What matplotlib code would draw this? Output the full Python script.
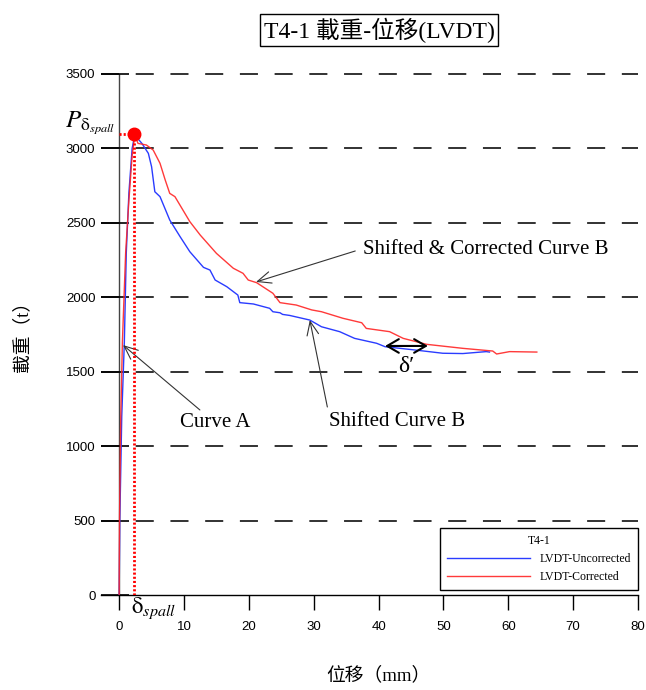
import matplotlib
matplotlib.use("Agg")
import matplotlib.pyplot as plt

# ---------------- data ----------------
uncorr_x = [0.0, 0.1, 0.4, 0.8, 1.1, 1.5, 2.0, 2.4, 3.5, 4.5, 5.0, 5.5, 6.3, 7.8, 9.4, 10.9,
            13.0, 14.0, 14.8, 16.6, 18.3, 18.6, 20.7, 23.2, 23.7, 24.8, 25.2, 26.3, 29.4,
            31.2, 34.0, 36.3, 39.7, 41.0, 45.6, 49.9, 53.0, 56.6, 57.1]
uncorr_y = [0, 500, 1200, 1700, 2300, 2700, 3000, 3090, 3034, 2967, 2877, 2709, 2676, 2519,
            2407, 2306, 2201, 2183, 2116, 2071, 2015, 1964, 1955, 1926, 1903, 1896, 1885,
            1878, 1847, 1802, 1769, 1724, 1691, 1668, 1646, 1624, 1622, 1635, 1632]

corr_x = [0.0, 0.05, 0.25, 0.5, 1.0, 1.5, 2.0, 2.4, 2.9, 4.2, 5.25, 6.3, 7.1, 7.8, 8.6,
          10.9, 12.5, 15.0, 17.6, 19.1, 19.9, 21.2, 23.7, 24.8, 27.3, 29.7, 31.2, 34.5,
          37.4, 38.1, 41.7, 43.8, 47.4, 53.0, 57.6, 58.2, 60.2, 64.4]
corr_y = [0, 500, 1200, 1700, 2300, 2650, 2950, 3090, 3034, 3023, 2989, 2900, 2788, 2698,
          2676, 2508, 2418, 2295, 2195, 2161, 2116, 2098, 2027, 1964, 1948, 1915, 1903,
          1859, 1829, 1791, 1769, 1724, 1684, 1657, 1639, 1619, 1635, 1632]

peak_x = 2.3
peak_y = 3100

x_ticks = [0, 10, 20, 30, 40, 50, 60, 70, 80]
y_ticks = [0, 500, 1000, 1500, 2000, 2500, 3000, 3500]

title_text = "T4-1 載重-位移(LVDT)"
xlabel_text = "位移（mm）"
ylabel_text = "載重（t）"
legend_title = "T4-1"
label_unc = "LVDT-Uncorrected"
label_cor = "LVDT-Corrected"

# ---------------- style ----------------
plt.rcParams['mathtext.fontset'] = 'stix'
plt.rcParams['lines.scale_dashes'] = False
SERIF = ['Liberation Serif', 'Noto Sans CJK TC', 'DejaVu Serif']
SANS = ['Liberation Sans', 'DejaVu Sans']

fig = plt.figure(figsize=(6.46, 6.90), dpi=100)
ax = fig.add_axes([101/646, 1-595/690, (638-101)/646, (595-74)/690])
ax.set_xlim(-2.8, 80)
ax.set_ylim(0, 3500)

for s in ['top', 'right', 'left']:
    ax.spines[s].set_visible(False)
ax.spines['bottom'].set_linewidth(1.0)

ax.set_xticks(x_ticks)
ax.set_yticks(y_ticks)
ax.tick_params(axis='x', direction='out', length=11, width=1.0, pad=8, labelsize=9.5)
ax.tick_params(axis='y', direction='in', length=20, width=1.2, pad=4, labelsize=9.5)
for lab in ax.get_xticklabels() + ax.get_yticklabels():
    lab.set_family(SANS)

for yv in y_ticks[1:]:
    ax.axhline(yv, color='#222222', lw=1.3, ls=(0, (13, 12)), zorder=1, clip_on=False)

ax.axvline(0, color='#444444', lw=1.0, zorder=1)

ax.plot(uncorr_x, uncorr_y, color='#2a3cff', lw=1.0, label=label_unc, zorder=3)
ax.plot(corr_x, corr_y, color='#ff2424', lw=1.0, label=label_cor, zorder=3, alpha=0.9)

# peak marker and dotted guides
ax.plot([peak_x, peak_x], [0, peak_y], color='red', lw=2.0, ls=(0, (1.5, 1.5)), zorder=4)
ax.plot([0, peak_x], [peak_y, peak_y], color='red', lw=2.0, ls=(0, (1.5, 1.5)), zorder=4)
ax.plot([peak_x], [peak_y], 'o', color='red', ms=9, zorder=5)

# annotations
arrow_kw = dict(arrowstyle='->,head_length=0.7,head_width=0.3', color='#333333', lw=0.8,
                mutation_scale=14, shrinkA=0, shrinkB=0)
ax.annotate('', xy=(21.1, 2103), xytext=(36.4, 2311), arrowprops=arrow_kw)
ax.annotate('', xy=(0.6, 1679), xytext=(12.45, 1243), arrowprops=arrow_kw)
ax.annotate('', xy=(29.4, 1847), xytext=(32.1, 1263), arrowprops=arrow_kw)

ax.text(37.6, 2318, "Shifted & Corrected Curve B", fontsize=15, family=SERIF,
        ha='left', va='center')
ax.text(9.4, 1160, "Curve A", fontsize=15, family=SERIF, ha='left', va='center')
ax.text(32.3, 1165, "Shifted Curve B", fontsize=15, family=SERIF, ha='left', va='center')

ax.annotate('', xy=(41.0, 1673), xytext=(47.6, 1673),
            arrowprops=dict(arrowstyle='<->,head_length=0.6,head_width=0.35',
                            color='black', lw=1.5, mutation_scale=14,
                            shrinkA=0, shrinkB=0))
ax.text(44.3, 1535, "δ′", fontsize=17, family=SERIF, ha='center', va='center')

ax.text(-0.6, 3170, r"$P_{\mathrm{\delta}_{spall}}$", fontsize=18, ha='right', va='center')
ax.text(1.9, -92, r"$\mathrm{\delta}_{spall}$", fontsize=16.5, ha='left', va='center', clip_on=False)

leg = ax.legend(title=legend_title, loc='lower right', bbox_to_anchor=(1.0, 0.0096),
                frameon=True, fancybox=False, framealpha=1, edgecolor='black',
                prop={'family': SERIF, 'size': 8.5}, title_fontproperties={'family': SERIF, 'size': 8.5},
                handlelength=7.0, handletextpad=0.8, labelspacing=0.5, borderpad=0.6,
                borderaxespad=0)
leg.get_frame().set_linewidth(1.0)

fig.text(379/646, 1-30/690, title_text, fontsize=17, family=SERIF, ha='center', va='center',
         bbox=dict(boxstyle='square,pad=0.15', fc='white', ec='black', lw=1.0))
fig.text(378/646, 1-675/690, xlabel_text, fontsize=13.5, family=SERIF, ha='center', va='center')
fig.text(22/646, 1-332/690, ylabel_text, fontsize=13.5, family=SERIF, ha='center', va='center',
         rotation=90)

fig.savefig('out.png', dpi=100)
